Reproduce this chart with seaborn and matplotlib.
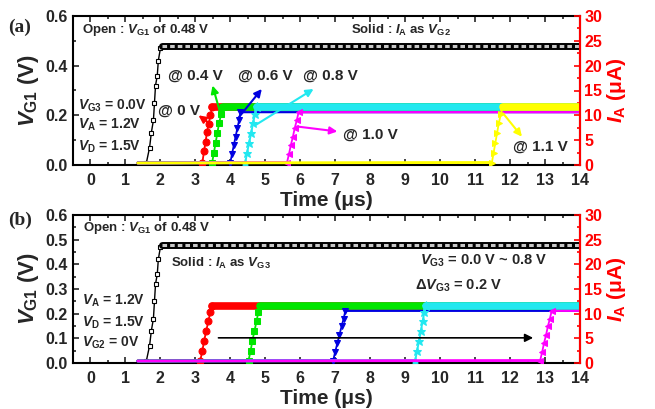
import pandas as pd
import matplotlib
matplotlib.use('Agg')
import matplotlib.pyplot as plt
import seaborn as sns
from matplotlib.ticker import MultipleLocator

# ---- data ----
# V_G1 (open squares, left axis), identical in both panels
t_vg1 = [1.35, 1.6, 1.69, 1.74, 1.8, 1.83, 1.86, 1.91, 1.94, 2.0, 2.05, 14.0]
v_vg1 = [0.01, 0.01, 0.07, 0.13, 0.18, 0.25, 0.32, 0.36, 0.42, 0.47, 0.48, 0.48]

# panel (a): I_A for V_G2 = 0, 0.4, 0.6, 0.8, 1.0, 1.1 V
t_a0 = [1.35, 3.2, 3.25, 3.29, 3.33, 3.38, 3.43, 3.48, 14.0]
i_a0 = [0.4, 0.5, 2.9, 4.6, 6.6, 8.3, 10.0, 11.6, 11.6]
t_a04 = [1.35, 3.48, 3.53, 3.58, 3.63, 3.68, 3.74, 3.8, 14.0]
i_a04 = [0.4, 0.5, 2.5, 4.5, 6.5, 8.5, 10.3, 11.6, 11.6]
t_a06 = [1.35, 4.0, 4.05, 4.1, 4.15, 4.2, 4.25, 4.29, 14.0]
i_a06 = [0.4, 0.5, 2.3, 4.0, 5.7, 7.4, 9.0, 10.6, 10.6]
t_a08 = [1.35, 4.43, 4.48, 4.54, 4.6, 4.65, 4.71, 4.76, 14.0]
i_a08 = [0.4, 0.5, 2.5, 4.5, 6.5, 8.5, 10.3, 11.6, 11.6]
t_a10 = [1.35, 5.62, 5.68, 5.73, 5.79, 5.84, 5.9, 5.95, 14.0]
i_a10 = [0.4, 0.5, 2.3, 4.0, 5.7, 7.4, 9.0, 10.6, 10.6]
t_a11 = [1.35, 11.48, 11.53, 11.58, 11.63, 11.68, 11.74, 11.79, 14.0]
i_a11 = [0.4, 0.5, 2.5, 4.5, 6.5, 8.5, 10.3, 11.6, 11.6]

# panel (b): I_A for V_G3 = 0.0 ~ 0.8 V
t_b0 = [1.35, 3.14, 3.2, 3.25, 3.31, 3.37, 3.43, 3.48, 14.0]
i_b0 = [0.4, 0.5, 2.5, 4.5, 6.5, 8.5, 10.3, 11.5, 11.5]
t_b02 = [1.35, 4.52, 4.58, 4.63, 4.69, 4.75, 4.8, 4.86, 14.0]
i_b02 = [0.4, 0.5, 2.5, 4.5, 6.5, 8.5, 10.3, 11.5, 11.5]
t_b04 = [1.35, 6.94, 7.0, 7.06, 7.12, 7.18, 7.24, 7.29, 14.0]
i_b04 = [0.4, 0.5, 2.3, 4.0, 5.7, 7.4, 9.0, 10.6, 10.6]
t_b06 = [1.35, 9.29, 9.34, 9.4, 9.45, 9.5, 9.55, 9.6, 14.0]
i_b06 = [0.4, 0.5, 2.5, 4.5, 6.5, 8.5, 10.3, 11.5, 11.5]
t_b08 = [1.35, 12.86, 12.92, 12.97, 13.03, 13.08, 13.14, 13.19, 14.0]
i_b08 = [0.4, 0.5, 2.3, 4.0, 5.7, 7.4, 9.0, 10.6, 10.6]

colors = ['#ff0000', '#00e600', '#0000e0', '#22e8f0', '#ff00ff', '#ffff00']
markers = ['o', 's', 'v', '*', '<', '>']

sns.set_style("ticks")
plt.rcParams['font.family'] = ['Liberation Sans', 'DejaVu Sans']
plt.rcParams['font.weight'] = 'bold'
plt.rcParams['mathtext.fontset'] = 'custom'
plt.rcParams['mathtext.rm'] = 'Liberation Sans:bold'
plt.rcParams['mathtext.it'] = 'Liberation Sans:bold:italic'
plt.rcParams['mathtext.bf'] = 'Liberation Sans:bold'


def draw_current(ax, t, i, color, marker, thick):
    df = pd.DataFrame({'t': t, 'i': i})
    n = len(df)
    # baseline and plateau as thick strips (dense markers in the original)
    sns.lineplot(data=df.iloc[:2], x='t', y='i', ax=ax, color=color, lw=2,
                 sort=False, estimator=None)
    sns.lineplot(data=df.iloc[n - 2:], x='t', y='i', ax=ax, color=color,
                 lw=5.5 if thick else 1.2, sort=False, estimator=None)
    sns.lineplot(data=df, x='t', y='i', ax=ax, color=color, lw=1.3, sort=False,
                 estimator=None, marker=marker, markersize=6.5 if marker == '*' else 5,
                 markeredgecolor=color, markevery=list(range(1, n - 1)))


def draw_vg1(ax):
    df = pd.DataFrame({'t': t_vg1, 'v': v_vg1})
    n = len(df)
    sns.lineplot(data=df.iloc[:n - 1], x='t', y='v', ax=ax, color='black', lw=1,
                 sort=False, estimator=None, marker='s', markersize=3.5,
                 markerfacecolor='white', markeredgecolor='black',
                 markeredgewidth=0.8, markevery=list(range(1, n - 1)))
    sns.lineplot(data=df.iloc[n - 2:], x='t', y='v', ax=ax, color='black', lw=5,
                 sort=False, estimator=None)
    ax.plot(df['t'].iloc[n - 2:], df['v'].iloc[n - 2:], color='#c8c8c8', lw=2.2,
            dashes=(1.5, 1.0))


def style_axes(ax, ax2, vstep):
    ax.set_xlim(-0.5, 14)
    ax.set_ylim(0, 0.6)
    ax2.set_ylim(0, 30)
    ax.xaxis.set_major_locator(MultipleLocator(1))
    ax.xaxis.set_minor_locator(MultipleLocator(0.5))
    ax.yaxis.set_major_locator(MultipleLocator(vstep))
    ax.yaxis.set_minor_locator(MultipleLocator(vstep / 2))
    ax2.yaxis.set_major_locator(MultipleLocator(5))
    ax2.yaxis.set_minor_locator(MultipleLocator(2.5))
    ax.tick_params(which='both', direction='in', top=True, right=False, width=1.2)
    ax.tick_params(which='major', length=4, labelsize=11.5, pad=6)
    ax.tick_params(axis='y', which='major', pad=4)
    ax.tick_params(which='minor', length=2)
    ax.yaxis.set_major_formatter(plt.FuncFormatter(lambda x, _: f"{x:.1f}"))
    ax2.tick_params(which='both', direction='in', colors='red', width=1.2)
    ax2.tick_params(which='major', length=4, labelsize=11.5, pad=3)
    ax2.tick_params(which='minor', length=2)
    for s in ax.spines.values():
        s.set_linewidth(1.5)
        s.set_color('black')
    for s in ax2.spines.values():
        s.set_linewidth(1.5)
    ax2.spines['right'].set_color('red')
    ax2.spines['left'].set_visible(False)
    ax2.spines['top'].set_visible(False)
    ax2.spines['bottom'].set_visible(False)
    ax.set_xlabel('Time (μs)', fontsize=15, fontweight='bold', labelpad=2)
    ax.set_ylabel('$V_{\\mathrm{G1}}$ (V)', fontsize=16, fontweight='bold', labelpad=3)
    ax2.set_ylabel('$I_{\\mathrm{A}}$ (μA)', fontsize=15, fontweight='bold',
                   color='red', labelpad=2)
    ax2.set_xlabel('')


fig = plt.figure(figsize=(6.55, 4.09), dpi=100)
ax_a = fig.add_axes([73 / 655, 1 - 165 / 409, 507 / 655, 149 / 409])
ax_a2 = ax_a.twinx()
ax_b = fig.add_axes([73 / 655, 1 - 363 / 409, 507 / 655, 148 / 409])
ax_b2 = ax_b.twinx()

# ---- panel (a) ----
draw_vg1(ax_a)
series_a = [(t_a0, i_a0), (t_a04, i_a04), (t_a06, i_a06),
            (t_a08, i_a08), (t_a10, i_a10), (t_a11, i_a11)]
for k, (t, i) in enumerate(series_a):
    draw_current(ax_a2, t, i, colors[k], markers[k], i[-1] > 11)
style_axes(ax_a, ax_a2, 0.2)

txt = dict(fontsize=10.5, fontweight='bold', va='center', ha='left')
ax_a2.text(-0.23, 27.1, 'Open : $V_{\\mathrm{G1}}$ of 0.48 V', **{**txt, 'fontsize': 9.5})
ax_a2.text(7.46, 27.1, 'Solid : $I_{\\mathrm{A}}$ as $V_{\\mathrm{G2}}$', **{**txt, 'fontsize': 9.5})
ax_a2.text(-0.37, 12.0, '$V_{\\mathrm{G3}}$ = 0.0V', **{**txt, 'fontsize': 10})
ax_a2.text(-0.37, 8.0, '$V_{\\mathrm{A}}$ = 1.2V', **{**txt, 'fontsize': 10})
ax_a2.text(-0.37, 3.6, '$V_{\\mathrm{D}}$ = 1.5V', **{**txt, 'fontsize': 10})

at_labels = ['@ 0 V', '@ 0.4 V', '@ 0.6 V', '@ 0.8 V', '@ 1.0 V', '@ 1.1 V']
at_pos = [(1.94, 11.0), (2.23, 18.0), (4.23, 18.0), (6.09, 18.0), (7.23, 6.1), (12.09, 3.7)]
arrow_tail = [(3.4, 8.4), (3.71, 10.5), (4.23, 9.5), (4.71, 8.0), (5.91, 7.75), (11.8, 10.4)]
arrow_head = [(3.09, 10.0), (3.49, 16.0), (4.9, 15.3), (6.38, 15.3), (7.06, 6.75), (12.34, 5.7)]
for k in range(6):
    ax_a2.text(at_pos[k][0], at_pos[k][1], at_labels[k], **{**txt, 'fontsize': 11})
    ax_a2.annotate('', xy=arrow_head[k], xytext=arrow_tail[k],
                   arrowprops=dict(arrowstyle='-|>', color=colors[k], lw=1.5,
                                   mutation_scale=11, shrinkA=0, shrinkB=0))
fig.text(0.012, 1 - 27 / 409, '(a)', fontsize=14, fontweight='bold',
         family='Liberation Serif', va='center')

# ---- panel (b) ----
draw_vg1(ax_b)
series_b = [(t_b0, i_b0), (t_b02, i_b02), (t_b04, i_b04), (t_b06, i_b06), (t_b08, i_b08)]
for k, (t, i) in enumerate(series_b):
    draw_current(ax_b2, t, i, colors[k], markers[k], i[-1] > 11)
style_axes(ax_b, ax_b2, 0.1)

ax_b2.text(-0.2, 27.3, 'Open : $V_{\\mathrm{G1}}$ of 0.48 V', **{**txt, 'fontsize': 9.5})
ax_b2.text(2.29, 20.2, 'Solid : $I_{\\mathrm{A}}$ as $V_{\\mathrm{G3}}$', **{**txt, 'fontsize': 9.5})
ax_b2.text(-0.23, 12.6, '$V_{\\mathrm{A}}$ = 1.2V', **{**txt, 'fontsize': 10})
ax_b2.text(-0.23, 8.2, '$V_{\\mathrm{D}}$ = 1.5V', **{**txt, 'fontsize': 10})
ax_b2.text(-0.23, 4.0, '$V_{\\mathrm{G2}}$ = 0V', **{**txt, 'fontsize': 10})
ax_b2.text(9.43, 20.8, '$V_{\\mathrm{G3}}$ = 0.0 V ~ 0.8 V', **txt)
ax_b2.text(9.29, 15.7, '$\\Delta V_{\\mathrm{G3}}$ = 0.2 V', **txt)
ax_b2.annotate('', xy=(12.66, 5.1), xytext=(3.66, 5.1),
               arrowprops=dict(arrowstyle='-|>', color='black', lw=1.2,
                               mutation_scale=12, shrinkA=0, shrinkB=0))
fig.text(0.012, 1 - 220 / 409, '(b)', fontsize=14, fontweight='bold',
         family='Liberation Serif', va='center')

fig.savefig('out.png', dpi=100)
